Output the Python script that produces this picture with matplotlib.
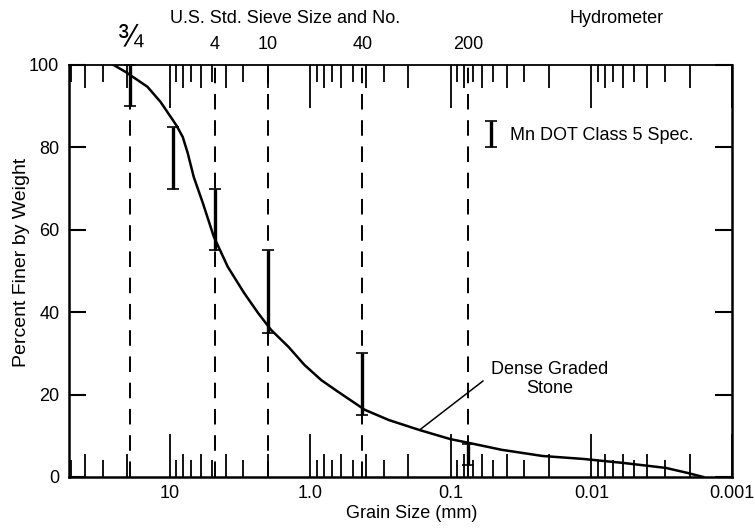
import matplotlib
matplotlib.use('Agg')
import matplotlib.pyplot as plt
import matplotlib.transforms as mtransforms
from matplotlib.legend_handler import HandlerErrorbar
from matplotlib.ticker import NullLocator

plt.rcParams['font.family'] = ['Liberation Sans', 'DejaVu Sans']

# Dense graded stone gradation curve
grain_mm = [25.1, 20.6, 14.4, 11.6, 9.84, 8.91, 8.07, 7.44, 6.74, 5.81, 4.85, 3.86,
            2.96, 2.35, 1.9, 1.43, 1.1, 0.834, 0.629, 0.409, 0.275, 0.167, 0.101,
            0.075, 0.0435, 0.0223, 0.0116, 0.0059, 0.00295, 0.00208, 0.0016]
pct_finer = [100, 98.3, 94.7, 91.0, 87.4, 85.2, 82.5, 78.6, 72.8, 66.5, 58.3, 51.0,
             44.7, 39.8, 35.7, 31.6, 27.2, 23.5, 20.6, 16.3, 13.8, 11.4, 9.2,
             8.3, 6.6, 5.1, 4.4, 3.4, 2.2, 1.0, 0.0]

# Mn DOT Class 5 spec band
spec_mm = [19, 9.5, 4.75, 2.0, 0.425, 0.075]
spec_lo = [90, 70, 55, 35, 15, 3]
spec_hi = [100, 85, 70, 55, 30, 8]

# sieves marked with dashed lines
sieve_mm = [19, 4.75, 2.0, 0.425, 0.075]
sieve_lbl = ['\u00be', '4', '10', '40', '200']

major_x = [10, 1, 0.1, 0.01, 0.001]
major_lbl = ['10', '1.0', '0.1', '0.01', '0.001']

# minor ticks: even ones longer than odd ones, like the original
decades = [10, 1, 0.1, 0.01, 0.001]
even_x = [d * k for d in decades for k in (2, 4, 6, 8) if d * k < 52]
odd_x = [d * k for d in decades for k in (3, 5, 7, 9) if d * k < 52]

fig = plt.figure(figsize=(7.55, 5.32), dpi=100)
ax = fig.add_axes([0.0914, 0.1034, 0.8781, 0.7746])

ax.set_xscale('log')
ax.set_xlim(52, 0.001)
ax.set_ylim(0, 100)

# odd minor ticks on a twin axis
ax2 = ax.twiny()
ax2.set_xscale('log')
ax2.set_xlim(ax.get_xlim())
ax2.set_xticks(odd_x)
ax2.xaxis.set_minor_locator(NullLocator())
ax2.tick_params(axis='x', which='major', direction='in', length=12, width=1.3,
                top=True, bottom=True, labeltop=False, labelbottom=False)
for sp in ax2.spines.values():
    sp.set_visible(False)

ax.set_xticks(major_x)
ax.set_xticklabels(major_lbl)
ax.set_xticks(even_x, minor=True)
ax.xaxis.set_minor_formatter(plt.NullFormatter())
ax.tick_params(axis='x', which='major', direction='in', length=31, width=1.3,
               top=True, bottom=True, labelsize=13, pad=6)
ax.tick_params(axis='x', which='minor', direction='in', length=16.5, width=1.3,
               top=True, bottom=True)

ax.set_yticks([0, 20, 40, 60, 80, 100])
ax.tick_params(axis='y', direction='in', length=12, width=1.5, left=True,
               right=True, labelsize=13, pad=7)

for name, sp in ax.spines.items():
    sp.set_linewidth(1.8 if name != 'top' else 1.3)

# dashed sieve lines
for s in sieve_mm:
    ax.axvline(s, color='black', lw=1.4, ls=(0, (8, 5.5)), zorder=1)

# spec bars
mid = [(lo + hi) / 2 for lo, hi in zip(spec_lo, spec_hi)]
err = [(hi - lo) / 2 for lo, hi in zip(spec_lo, spec_hi)]
bars = ax.errorbar(spec_mm, mid, yerr=err, fmt='none', ecolor='black',
                   elinewidth=2.4, capsize=4.5, capthick=1.2, zorder=3,
                   label='Mn DOT Class 5 Spec.', clip_on=False)

ax.plot(grain_mm, pct_finer, color='black', lw=1.8, zorder=4,
        solid_joinstyle='round')

ax.annotate('Dense Graded\nStone', xy=(0.167, 11.4), xytext=(0.0197, 23.8),
            ha='center', va='center', fontsize=13, multialignment='center',
            arrowprops=dict(arrowstyle='-', color='black', lw=1.1,
                            relpos=(0, 0.62), shrinkA=5, shrinkB=0))

ax.legend(handles=[bars], loc='center left', bbox_to_anchor=(0.6, 0.828),
          frameon=False, fontsize=13, handlelength=0.9, handletextpad=0.6,
          handler_map={type(bars): HandlerErrorbar(yerr_size=0.7)})

# sieve labels above the top axis
trans = mtransforms.blended_transform_factory(ax.transData, ax.transAxes)
for s, lbl in zip(sieve_mm, sieve_lbl):
    big = lbl == '\u00be'
    ax.text(s, 1.064 if big else 1.049, lbl, transform=trans, ha='center',
            va='center', fontsize=22 if big else 13)

fig.text(0.377, 0.966, 'U.S. Std. Sieve Size and No.', ha='center',
         va='center', fontsize=13)
fig.text(0.817, 0.966, 'Hydrometer', ha='center', va='center', fontsize=13)

ax.set_xlabel('Grain Size (mm)', fontsize=13, labelpad=2)
ax.xaxis.label.set_x(0.517)
ax.set_ylabel('Percent Finer by Weight', fontsize=14, labelpad=-1)
ax.yaxis.label.set_y(0.522)

fig.savefig('out.png', dpi=100)
